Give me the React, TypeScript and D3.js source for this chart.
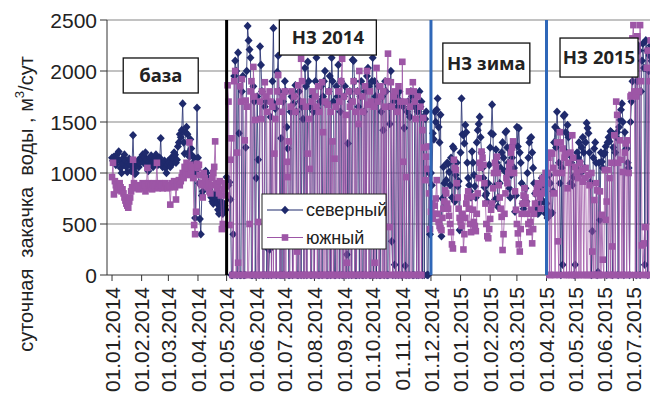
import React, { useEffect, useRef } from 'react';
import * as d3 from 'd3';

// month tick labels on the date axis
const tickLabels = [
  '01.01.2014', '01.02.2014', '01.03.2014', '01.04.2014', '01.05.2014', '01.06.2014',
  '01.07.2014', '01.08.2014', '01.09.2014', '01.10.2014', '01.11.2014', '01.12.2014',
  '01.01.2015', '01.02.2015', '01.03.2015', '01.04.2015', '01.05.2015', '01.06.2015',
  '01.07.2015',
];
const yTicks = [0, 500, 1000, 1500, 2000, 2500];
const seriesNames = ['северный', 'южный'];
const firstDay = '01.01.2014';

// база: 01.01.2014 - 30.04.2014 (daily)
const baseNorth = [
  1150, 1120, 1160, 1100, 1080, 1140, 1190, 1210, 1120, 1050,
  1000, 1090, 1150, 1180, 1120, 1060, 1010, 1100, 1140, 1080,
  1020, 1100, 1370, 1050, 990, 1000, 1080, 1120, 1060, 1100,
  1150,
  1140, 1180, 1100, 1160, 1200, 1130, 1070, 1020, 1110, 1150,
  1170, 1100, 1060, 1120, 1140, 1180, 1130, 1080, 1110, 1150,
  1340, 1090, 1060, 1100, 1120, 1050, 1000, 1080,
  1120, 1100, 1060, 1150, 1090, 1140, 1200, 1180, 1100, 1130,
  1260, 1300, 1380, 1350, 1420, 1680, 1300, 1190, 1400, 1450,
  1380, 1200, 1160, 1330, 1240, 1170, 1100, 1150, 560, 1000,
  1640,
  1150, 900, 550, 400, 780, 820, 1000, 960, 1020, 1000,
  950, 880, 840, 800, 760, 720, 700, 760, 800, 750,
  700, 640, 600, 680, 720, 650, 600, 700, 680, 640,
];
const baseSouth = [
  960, 1100, 790, 920, 880, 850, 830, 870, 900, 860,
  820, 840, 800, 760, 730, 700, 680, 660, 720, 760,
  820, 860, 1130, 900, 870, 850, 880, 860, 840, 880,
  860,
  870, 900, 850, 880, 820, 860, 1050, 900, 880, 850,
  870, 840, 880, 900, 860, 880, 1100, 850, 870, 900,
  860, 880, 850, 880, 860, 900, 870, 850,
  880, 860, 690, 870, 900, 880, 920, 860, 740, 890,
  900, 930, 880, 920, 960, 1000, 950, 1060, 1000, 1100,
  1050, 980, 1300, 1080, 1000, 1060, 950, 490, 400, 620,
  1090,
  1050, 1080, 980, 900, 880, 760, 1000, 950, 920, 880,
  860, 900, 820, 800, 880, 950, 1000, 1060, 1310, 900,
  850, 880, 800, 920, 780, 450, 500, 840, 900, 870,
];

// НЗ 2014: 01.05.2014 - 30.11.2014
const nz14North = [
  960, 920, 880, 910, 740, 0, 0, 400, 1950, 2100,
  2000, 0, 2180, 1390, 0, 0, 1800, 1950, 0, 0,
  1250, 2000, 2440, 2300, 2210, 2130, 0, 0, 1850, 1700,
  0, 950, 1750, 1130, 0, 2240, 2060, 1800, 0, 0,
  1650, 1700, 0, 260, 0, 250, 1550, 0, 1900, 2420,
  1680, 1630, 0, 1990, 2150, 1800, 0, 1340, 0, 1700,
  0, 1900, 1800, 1450, 1240, 0, 0, 1600, 1750, 0,
  1680, 1750, 1860, 1600, 0, 0, 1800, 1700, 0, 1650,
  1530, 0, 2030, 1850, 0, 2090, 1900, 1650, 0, 0,
  1750, 1600, 0, 1900, 2130, 1630, 0, 0, 1700, 1850,
  0, 1750, 1900, 2000, 1680, 0, 0, 1800, 1950, 0,
  2130, 1900, 1700, 0, 0, 1850, 1750, 2060, 0, 1600,
  1900, 0, 0, 1750, 1850, 0, 200, 1290, 0, 1800,
  1700, 0, 2110, 2100, 1900, 0, 0, 1800, 1650, 0,
  1750, 1900, 0, 0, 1600, 1800, 0, 1950, 2030, 1850,
  0, 0, 1900, 2130, 0, 1900, 1750, 0, 1700, 1850,
  0, 0, 1600, 1750, 1420, 0, 1900, 1800, 0, 0,
  1650, 1480, 2000, 330, 0, 1700, 100, 0, 1760, 1650,
  0, 1800, 1700, 0, 0, 1650, 1440, 90, 0, 1600,
  1700, 0, 1550, 1800, 1750, 0, 0, 1650, 1700, 0,
  1600, 0, 1800, 1650, 1700, 0, 1550, 0, 1530, 1600,
  0, 0, 1000, 400,
];
const nz14South = [
  780, 1860, 1700, 490, 1130, 1340, 0, 0, 1900, 2000,
  0, 1200, 120, 0, 1850, 1700, 1920, 0, 0, 1320,
  1710, 1650, 0, 0, 500, 1800, 1900, 0, 2040, 1750,
  1520, 0, 0, 520, 0, 1700, 1530, 1800, 0, 0,
  1890, 1750, 1600, 0, 0, 1800, 1700, 0, 1650, 0,
  1190, 1530, 0, 1800, 1960, 1700, 0, 0, 1600, 1750,
  0, 1800, 0, 1110, 960, 1310, 0, 1650, 1800, 0,
  0, 1750, 1600, 0, 230, 1860, 0, 0, 2120, 1900,
  1700, 0, 0, 1650, 0, 1190, 1530, 1040, 0, 1700,
  1800, 0, 0, 1750, 1650, 0, 1850, 1600, 0, 0,
  1890, 1400, 0, 1700, 0, 0, 1670, 1800, 0, 1600,
  0, 1310, 0, 1140, 1650, 0, 0, 1800, 1700, 0,
  1900, 2120, 0, 1750, 0, 1570, 120, 0, 1800, 1650,
  0, 0, 1700, 1900, 0, 1600, 0, 1800, 1480, 2000,
  0, 0, 1750, 1600, 0, 1850, 0, 2000, 1670, 0,
  1800, 1700, 0, 0, 1650, 120, 0, 2030, 1700, 0,
  0, 1850, 1750, 0, 1800, 0, 1650, 0, 1900, 2170,
  470, 0, 1890, 1650, 0, 1750, 1800, 0, 0, 1600,
  1850, 0, 1700, 0, 2090, 1110, 0, 1700, 960, 0,
  0, 1800, 1650, 0, 0, 1890, 1800, 1700, 1530, 0,
  1750, 0, 0, 1650, 0, 1420, 1540, 1250, 930, 1160,
  1040, 1260, 800, 450,
];

// НЗ зима: 01.12.2014 - 31.03.2015
const winterNorth = [
  1000, 880, 1390, 1330, 1600, 1500, 1620, 1730, 1450, 1300,
  1570, 380, 750, 1060, 900, 700, 930, 1100, 1090, 1010,
  880, 1150, 760, 1260, 1240, 720, 980, 1100, 870, 920,
  440,
  1200, 1730, 1380, 1370, 1290, 1470, 1400, 1100, 950, 880,
  820, 760, 1210, 1100, 980, 870, 760, 1300, 1420, 1480,
  1550, 1350, 1200, 1050, 950, 860, 780, 800, 720, 900,
  1080,
  1250, 1390, 1670, 1380, 870, 740, 1230, 1100, 670, 760,
  900, 1050, 1200, 1300, 1150, 1020, 1400, 1410, 1250, 1100,
  850, 760, 980, 1150, 1280, 1050, 620, 780,
  1450, 1260, 1440, 1200, 1100, 900, 700, 650, 760, 850,
  720, 1000, 1150, 1300, 1340, 1350, 1200, 1050, 900, 800,
  700, 650, 600, 610, 700, 820, 950, 880, 720, 640,
  600,
];
const winterSouth = [
  620, 700, 550, 600, 680, 750, 930, 600, 520, 480,
  460, 440, 560, 650, 720, 830, 800, 700, 650, 580,
  500, 420, 300, 260, 1130, 1050, 1030, 900, 760, 650,
  560,
  520, 480, 600, 250, 400, 560, 700, 760, 820, 650,
  500, 420, 770, 640, 520, 480, 430, 600, 800, 950,
  1100, 1050, 1210, 1150, 1080, 900, 700, 500, 380, 360,
  450,
  550, 640, 700, 850, 1000, 1100, 1060, 1160, 1000, 880,
  760, 650, 570, 245, 400, 600, 800, 950, 900, 1000,
  1060, 1100, 1200, 1250, 1310, 1000, 820, 640,
  500, 408, 300, 230, 450, 600, 700, 780, 850, 760,
  700, 600, 500, 420, 520, 640, 310, 450, 600, 700,
  800, 850, 900, 880, 760, 650, 800, 950, 900, 820,
  1000,
];

// НЗ 2015: 01.04.2015 - 20.07.2015
const nz15North = [
  700, 560, 620, 980, 900, 600, 610, 820, 1300, 1450,
  1250, 1600, 1420, 1100, 900, 0, 1050, 100, 1560, 1570,
  1400, 1200, 1470, 1350, 1180, 900, 1100, 880, 960, 0,
  100, 1050, 1200, 1150, 1300, 1110, 1000, 1250, 1350, 1200,
  1050, 1300, 1490, 1440, 1390, 1200, 910, 0, 430, 1150,
  1240, 1300, 1100, 0, 30, 1100, 540, 1200, 1110, 1050,
  1180,
  1200, 1260, 0, 1300, 1350, 1310, 1410, 1400, 0, 1250,
  1100, 1200, 1350, 1400, 0, 1450, 1520, 1620, 1680, 1500,
  0, 1400, 1230, 1240, 1100, 1050, 0, 1500, 1700, 1900,
  2000, 2160, 2100, 0, 1900, 2250, 2200, 0, 1800, 2100,
  2270, 2030, 100, 2300, 2200, 0, 2000, 2150, 2250, 2100,
];
const nz15South = [
  900, 1000, 1150, 0, 1200, 0, 1190, 1050, 800, 0,
  1000, 1300, 330, 0, 1400, 1300, 1000, 1240, 0, 1150,
  1190, 0, 850, 1100, 0, 1200, 0, 1370, 1150, 0,
  1060, 0, 1000, 950, 0, 1100, 0, 1030, 915, 0,
  950, 1050, 0, 0, 980, 880, 0, 1000, 230, 0,
  735, 0, 900, 830, 0, 0, 820, 0, 590, 150,
  0,
  1030, 540, 720, 1030, 0, 950, 0, 1100, 280, 0,
  1370, 0, 1700, 1570, 1100, 0, 1320, 1130, 0, 1010,
  0, 1200, 1290, 0, 1320, 1000, 0, 1750, 1765, 2320,
  2450, 1800, 0, 1750, 2340, 0, 1800, 2450, 1900, 290,
  0, 310, 470, 0, 2030, 2200, 0, 1900, 2300, 0,
];

const events = [
  { date: '01.05.2014', color: '#000000' },
  { date: '01.12.2014', color: '#2F67B8' },
  { date: '01.04.2015', color: '#2F67B8' },
];

const periodLabels = ['база', 'НЗ 2014', 'НЗ зима', 'НЗ 2015'];
const labelAnchors = [
  { date: '21.02.2014', value: 1956, w: 75, h: 35 },
  { date: '15.08.2014', value: 2328, w: 97, h: 35 },
  { date: '28.01.2015', value: 2078, w: 87, h: 40 },
  { date: '26.05.2015', value: 2132, w: 78, h: 39 },
];

const NAVY = '#1F2A6C';
const PURPLE = '#9D56A6';

export default function App() {
  const svgRef = useRef<SVGSVGElement>(null);

  useEffect(() => {
    if (!svgRef.current) return;
    const svg = d3.select(svgRef.current);
    svg.selectAll('*').remove();

    const parse = d3.utcParse('%d.%m.%Y');
    const top = 20, bottom = 275, left = 107, right = 650;

    const x = d3.scaleUtc()
      .domain([parse('26.12.2013')!, parse('01.08.2015')!])
      .range([106.3, 663]);
    const y = d3.scaleLinear().domain([0, 2500]).range([bottom, top]);

    const start = parse(firstDay)!.getTime();
    const toPoints = (vals: number[]) =>
      vals.map((v, i) => ({ date: new Date(start + i * 864e5), v }));
    const north = toPoints([...baseNorth, ...nz14North, ...winterNorth, ...nz15North]);
    const south = toPoints([...baseSouth, ...nz14South, ...winterSouth, ...nz15South]);

    const font = "'Liberation Sans', Arial, sans-serif";

    svg.append('rect').attr('width', 650).attr('height', 397).attr('fill', '#fff');

    // grid
    svg.append('g').selectAll('line')
      .data(yTicks.filter(t => t > 0))
      .enter().append('line')
      .attr('x1', left).attr('x2', right)
      .attr('y1', d => y(d)).attr('y2', d => y(d))
      .attr('stroke', '#858585').attr('stroke-width', 1);

    // y axis
    svg.append('line')
      .attr('x1', left).attr('x2', left).attr('y1', top).attr('y2', bottom)
      .attr('stroke', '#333').attr('stroke-width', 1);
    const yg = svg.append('g');
    yg.selectAll('line').data(yTicks).enter().append('line')
      .attr('x1', left - 7).attr('x2', left)
      .attr('y1', d => y(d)).attr('y2', d => y(d))
      .attr('stroke', '#333');
    yg.selectAll('text').data(yTicks).enter().append('text')
      .attr('x', 97).attr('y', d => y(d)).attr('dy', '0.36em')
      .attr('text-anchor', 'end')
      .style('font-family', font).style('font-size', '21px').style('fill', '#222')
      .text(d => d);

    // y title
    const yt = svg.append('text')
      .attr('transform', 'translate(33,204) rotate(-90)')
      .attr('text-anchor', 'middle')
      .style('font-family', font).style('font-size', '20px').style('fill', '#222')
      .style('white-space', 'pre');
    yt.append('tspan').text('суточная  закачка  воды , м');
    yt.append('tspan').attr('dy', -9).style('font-size', '13px').text('3');
    yt.append('tspan').attr('dy', 9).text('/сут');

    // x axis
    svg.append('line')
      .attr('x1', left).attr('x2', right).attr('y1', bottom).attr('y2', bottom)
      .attr('stroke', '#333');
    const xg = svg.append('g');
    xg.selectAll('line').data(tickLabels).enter().append('line')
      .attr('x1', d => x(parse(d)!)).attr('x2', d => x(parse(d)!))
      .attr('y1', bottom).attr('y2', bottom + 6)
      .attr('stroke', '#333');
    xg.selectAll('text').data(tickLabels).enter().append('text')
      .attr('transform', d => `translate(${x(parse(d)!)},${bottom + 12}) rotate(-90)`)
      .attr('dy', '0.36em')
      .attr('text-anchor', 'end')
      .style('font-family', font).style('font-size', '21px').style('fill', '#222')
      .text(d => d);

    // series
    svg.append('clipPath').attr('id', 'plotclip')
      .append('rect').attr('x', left).attr('y', 0).attr('width', right - left).attr('height', 290);
    const plot = svg.append('g').attr('clip-path', 'url(#plotclip)');

    const line = d3.line<{ date: Date; v: number }>()
      .x(d => x(d.date)).y(d => y(d.v));

    const diamond = 'M0,-4.3L4,0L0,4.3L-4,0Z';

    const drawSeries = (pts: { date: Date; v: number }[], color: string, kind: string) => {
      const g = plot.append('g');
      g.append('path').datum(pts)
        .attr('d', line)
        .attr('fill', 'none').attr('stroke', color).attr('stroke-width', 0.8);
      if (kind === 'diamond') {
        g.selectAll('path.m').data(pts).enter().append('path')
          .attr('class', 'm')
          .attr('d', diamond)
          .attr('transform', d => `translate(${x(d.date)},${y(d.v)})`)
          .attr('fill', color);
      } else {
        g.selectAll('rect').data(pts).enter().append('rect')
          .attr('x', d => x(d.date) - 3.3).attr('y', d => y(d.v) - 3.3)
          .attr('width', 6.6).attr('height', 6.6)
          .attr('fill', color);
      }
    };
    drawSeries(north, NAVY, 'diamond');
    drawSeries(south, PURPLE, 'square');

    // event lines
    svg.append('g').selectAll('line').data(events).enter().append('line')
      .attr('x1', d => x(parse(d.date)!)).attr('x2', d => x(parse(d.date)!))
      .attr('y1', top).attr('y2', bottom)
      .attr('stroke', d => d.color).attr('stroke-width', 3);

    // period labels
    const lg = svg.append('g').selectAll('g').data(periodLabels).enter().append('g')
      .attr('transform', (d, i) => {
        const a = labelAnchors[i];
        return `translate(${x(parse(a.date)!)},${y(a.value)})`;
      });
    lg.append('rect')
      .attr('x', (d, i) => -labelAnchors[i].w / 2).attr('y', (d, i) => -labelAnchors[i].h / 2)
      .attr('width', (d, i) => labelAnchors[i].w).attr('height', (d, i) => labelAnchors[i].h)
      .attr('fill', '#fff').attr('stroke', '#111').attr('stroke-width', 1.3);
    lg.append('text')
      .attr('text-anchor', 'middle').attr('dy', '0.36em')
      .style('font-family', "'Noto Sans', 'Open Sans', sans-serif")
      .style('font-weight', 'bold').style('font-size', '18.5px').style('fill', '#222')
      .text(d => d);

    // legend
    const legend = svg.append('g').attr('transform', 'translate(262,194)');
    legend.append('rect').attr('width', 124).attr('height', 55)
      .attr('fill', '#fff').attr('stroke', '#222').attr('stroke-width', 1);
    seriesNames.forEach((name, i) => {
      const cy = 16 + i * 27.5;
      const color = i === 0 ? NAVY : PURPLE;
      legend.append('line').attr('x1', 5).attr('x2', 41).attr('y1', cy).attr('y2', cy)
        .attr('stroke', color).attr('stroke-width', 1.2);
      if (i === 0) {
        legend.append('path').attr('d', diamond).attr('transform', `translate(23,${cy})`).attr('fill', color);
      } else {
        legend.append('rect').attr('x', 19.7).attr('y', cy - 3.3).attr('width', 6.6).attr('height', 6.6).attr('fill', color);
      }
      legend.append('text').attr('x', 44).attr('y', cy).attr('dy', '0.36em')
        .style('font-family', font).style('font-size', '18px').style('fill', '#222')
        .text(name);
    });
  }, []);

  return (
    <svg ref={svgRef} width={650} height={397}
      style={{ position: 'absolute', left: 0, top: 0, display: 'block' }} />
  );
}
